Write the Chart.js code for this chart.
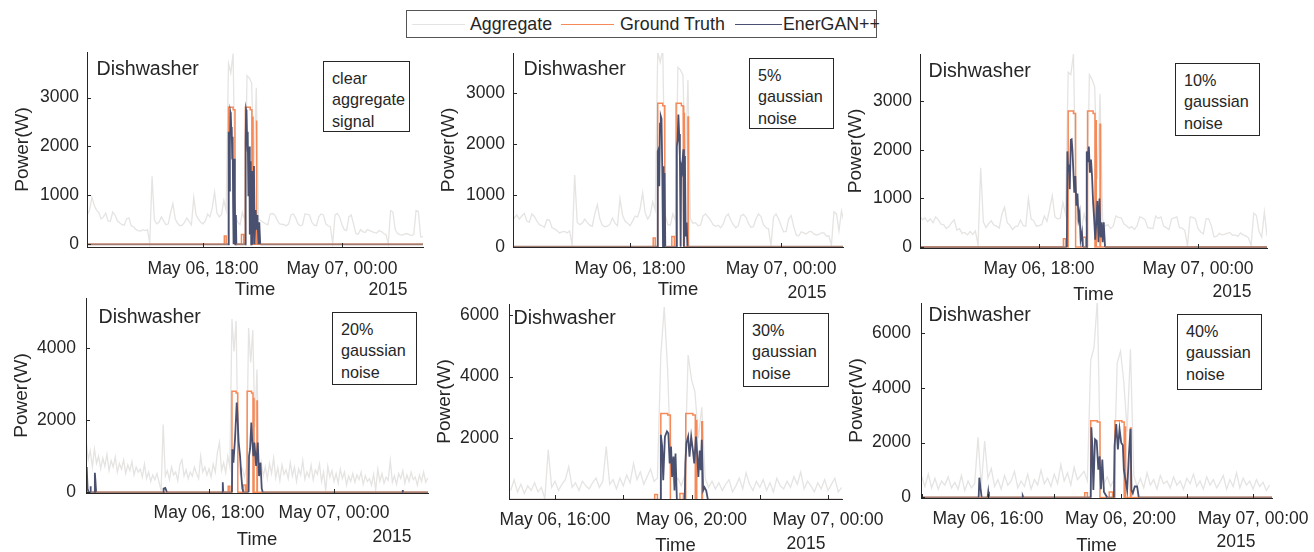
<!DOCTYPE html>
<html><head><meta charset="utf-8">
<script src="https://cdn.jsdelivr.net/npm/chart.js@4.4.1/dist/chart.umd.min.js"></script>
<style>
html,body{margin:0;padding:0;background:#fff}
body{width:1314px;height:552px;position:relative;overflow:hidden;font-family:"Liberation Sans",Arial,Helvetica,sans-serif;color:#262626}
canvas{position:absolute}
.t{position:absolute;white-space:nowrap;line-height:1}
.box{position:absolute;border:1px solid #262626;background:#fff;box-sizing:border-box}
.bt{position:absolute;white-space:nowrap;font-size:16.2px;line-height:21.3px}
.ln{position:absolute;height:0}
</style></head><body>
<script>
// ---------------- DATA ----------------
const aggStep = 0.1; // hours between aggregate samples (time axis = hours since May 06 00:00)

// Panel 1: clear aggregate signal
const agg1Start = 13.0;
const agg1 = [600,700,960,800,700,650,520,560,640,480,
470,660,600,480,440,400,390,520,540,380,
360,300,280,270,300,280,300,20,1390,500,
420,450,560,480,400,420,650,830,520,430,
380,390,450,540,470,400,960,600,520,450,
420,480,620,560,750,1070,640,560,610,900,
700,3700,3500,3900,600,450,400,650,500,3450,
3400,3300,1500,3200,520,480,450,420,400,620,
630,600,500,420,410,400,380,420,600,620,
540,420,380,400,620,610,600,450,390,380,
560,620,600,420,380,360,10,600,630,560,
400,300,280,560,600,420,220,200,300,260,
240,300,280,260,240,230,280,260,220,200,
10,690,660,300,220,200,190,210,220,200,
180,200,690,670,150,150];

// Panel 2: 5% gaussian noise
const agg2Start = 13.3;
const agg2 = [650,560,620,540,600,650,500,
480,640,590,500,430,410,380,530,520,370,
350,310,270,290,300,270,310,30,1400,480,
430,460,540,470,420,400,640,820,540,420,
390,400,440,560,460,410,940,620,500,460,
410,500,600,580,740,1050,660,540,620,880,
720,3800,3600,3850,620,430,420,640,520,3500,
3450,3350,1600,3250,540,460,470,410,420,600,
640,580,520,430,400,420,370,440,590,640,
520,430,370,410,600,630,580,460,380,390,
540,640,590,430,370,350,20,580,640,540,
410,290,300,540,610,400,230,210,290,270,
250,290,300,250,230,240,270,270,210,210,
30,680,640,310,700,480];

// Panel 3: 10% gaussian noise
const agg3Start = 13.5;
const agg3 = [640,560,600,520,580,
500,620,560,470,460,380,420,500,560,350,
380,280,300,250,320,260,330,40,1630,520,
400,480,540,450,430,390,680,820,500,450,
360,420,430,560,440,430,1000,580,540,430,
440,460,640,530,780,1060,620,580,590,920,
680,3600,3550,3980,640,470,380,680,480,3550,
3450,3300,1400,3150,560,430,460,380,430,640,
610,600,480,440,390,420,360,440,620,600,
560,400,390,380,640,590,620,430,400,360,
580,600,620,400,390,340,30,620,610,580,
380,310,270,580,580,440,210,220,280,250,
260,280,300,240,250,220,290,250,230,190,
30,700,650,320,200,720,230];

// Panel 4: 20% gaussian noise
const agg4Start = 12.1;
const agg4 = [1450,900,1150,700,1200,800,1000,650,950,
720,1050,600,880,700,980,560,800,640,900,
520,760,600,850,480,700,560,640,420,780,
380,560,300,480,350,520,280,50,1880,450,
600,350,700,480,560,320,760,900,450,620,
380,560,450,700,520,380,1000,560,700,480,
650,420,780,560,1100,1380,600,820,540,1000,
700,4800,3900,4750,800,500,650,420,700,4550,
3600,4500,1800,3400,600,850,450,700,380,800,
520,950,400,680,320,760,500,620,380,820,
450,700,300,650,480,880,360,560,420,750,
340,620,500,780,300,560,40,720,420,600,
300,520,250,640,380,560,200,450,300,520,
280,480,350,560,220,460,300,380,200,500,
60,640,300,520,250,420,330,880,280,460,
220,520,380,600,250,480,300,560,350,420,
200,480,300,560,280,400];

// Panel 5: 30% gaussian noise
const agg5Start = 14.7;
const agg5 = [300,650,250,
500,200,450,300,550,250,400,30,1620,400,
600,300,500,650,1070,400,550,300,600,450,
350,550,700,400,600,1730,500,650,350,700,
450,800,550,1180,650,900,500,750,1000,600,
700,4700,6260,4200,900,500,700,450,800,4700,
3900,3500,2000,3000,700,400,600,350,550,300,
500,650,250,450,700,350,870,500,300,600,
400,650,300,550,250,700,450,350,600,400,
750,500,900,350,600,450,250,550,350,650,
300,500,700,250,400];

// Panel 6: 40% gaussian noise
const agg6Start = 14.0;
const agg6 = [770,400,850,350,700,300,600,450,750,350,
550,300,800,250,600,350,500,2190,400,2060,
700,1050,400,650,300,800,450,600,950,350,
600,400,850,300,650,450,1000,500,700,400,
850,500,1200,600,900,450,1100,650,800,950,
600,5000,5460,7190,900,500,750,400,650,4900,
5335,4200,2400,5400,800,400,700,350,900,450,
650,300,800,500,600,350,750,450,600,300,
700,500,850,400,600,300,750,450,650,350,
550,800,300,650,400,900,350,700,450,600,
300,650,400,550,250,450];

// Ground truth (same dishwasher activation in every panel): [hour, W]
const truth = [[11,0],[18.92,0],[18.92,170],[19.0,170],[19.0,0],[19.1,0],[19.1,2800],[19.3,2800],[19.3,2750],[19.38,2750],[19.38,0],
[19.66,0],[19.66,200],[19.76,200],[19.76,0],[19.83,0],[19.83,2800],[20.04,2800],[20.04,2750],[20.11,2750],[20.11,0],
[20.14,0],[20.14,2600],[20.16,2600],[20.16,0],[20.30,0],[20.30,2530],[20.32,2530],[20.32,0],[29,0]];

// EnerGAN++ predictions: [hour, W]
const pred1 = [[11,0],[19.08,0],[19.10,2250],[19.12,2300],[19.14,1100],[19.16,2000],[19.18,2700],[19.20,2650],[19.22,2350],[19.24,2400],[19.26,1750],[19.28,2200],[19.30,800],[19.32,0],[19.34,1750],[19.36,300],[19.38,1000],[19.40,0],[19.42,600],[19.44,0],
[19.82,0],[19.84,2100],[19.86,2750],[19.88,2700],[19.90,2250],[19.92,1900],[19.94,2300],[19.96,1000],[19.98,1700],[20.00,2000],[20.02,200],[20.04,1230],[20.06,1700],[20.08,0],[20.10,1000],[20.12,1500],[20.14,0],[20.17,900],[20.20,1600],[20.23,0],[20.27,700],[20.31,300],[20.35,600],[20.39,0],[20.43,450],[20.47,0],[29,0]];
const pred2 = [[11,0],[19.08,0],[19.10,1860],[19.13,1900],[19.16,1180],[19.19,2400],[19.22,2550],[19.25,2500],[19.28,1500],[19.31,0],[19.33,1570],[19.35,0],[19.37,1440],[19.40,0],
[19.84,0],[19.86,1960],[19.89,2090],[19.92,2580],[19.95,2200],[19.98,1770],[20.01,0],[20.03,1570],[20.06,1500],[20.09,1700],[20.12,1900],[20.14,0],[20.18,1770],[20.21,200],[20.25,470],[20.28,0],[29,0]];
const pred3 = [[11,0],[19.05,0],[19.07,1970],[19.10,1560],[19.13,1700],[19.16,1190],[19.20,2210],[19.23,2220],[19.26,2000],[19.30,1500],[19.33,1120],[19.37,1460],[19.41,850],[19.45,1100],[19.49,580],[19.53,700],[19.57,150],[19.62,300],[19.65,0],
[19.79,0],[19.80,1970],[19.84,1750],[19.88,2070],[19.92,1530],[19.96,1800],[20.00,1460],[20.04,920],[20.08,580],[20.12,150],[20.16,510],[20.20,950],[20.24,100],[20.28,1000],[20.32,200],[20.36,510],[20.40,100],[20.44,510],[20.49,0],[29,0]];
const pred4 = [[11,0],[12.05,0],[12.07,960],[12.10,500],[12.13,700],[12.17,100],[12.22,0],[12.29,0],[12.31,170],[12.33,0],[12.50,0],[12.52,540],[12.55,300],[12.58,0],
[15.80,0],[15.82,100],[15.90,120],[15.98,0],[18.64,0],[18.66,280],[18.68,0],
[19.10,0],[19.12,1190],[19.17,820],[19.25,1500],[19.33,2490],[19.36,2210],[19.42,1400],[19.49,1000],[19.55,450],[19.60,100],[19.65,0],
[19.90,0],[19.92,1000],[19.97,1200],[20.03,1930],[20.07,1470],[20.13,1000],[20.18,1380],[20.26,730],[20.34,1380],[20.40,450],[20.47,820],[20.53,100],[20.58,0],
[27.28,0],[27.30,60],[27.32,0],[29,0]];
const pred5 = [[11,0],[19.08,0],[19.10,2110],[19.14,1730],[19.17,630],[19.22,2050],[19.28,2220],[19.32,2160],[19.36,1180],[19.40,1730],[19.43,740],[19.47,1400],[19.50,300],[19.53,1500],[19.57,0],
[19.80,0],[19.82,1180],[19.85,1840],[19.90,2050],[19.94,1400],[19.99,2050],[20.04,1600],[20.08,1180],[20.13,2050],[20.17,1400],[20.20,740],[20.24,1600],[20.27,960],[20.30,1950],[20.34,300],[20.38,400],[20.43,300],[20.48,0],[29,0]];
const pred6 = [[11,0],[15.72,0],[15.74,720],[15.78,300],[15.81,0],[15.99,0],[16.01,210],[16.03,0],[17.04,0],[17.05,60],[17.07,0],
[19.10,0],[19.12,2560],[19.15,1880],[19.18,270],[19.23,2120],[19.28,2060],[19.33,1010],[19.37,1500],[19.41,300],[19.45,1380],[19.50,200],[19.55,100],[19.60,0],
[19.80,0],[19.82,1880],[19.87,2680],[19.92,1750],[19.97,2500],[20.02,2000],[20.07,1900],[20.10,1010],[20.15,640],[20.20,270],[20.25,1500],[20.30,2500],[20.33,270],[20.37,150],[20.43,400],[20.50,400],[20.55,0],[29,0]];

// Tick values / labels
const yTicks3k = [0,1000,2000,3000];
const yTicks4k = [0,2000,4000];
const yTicks6kNoZero = [2000,4000,6000];
const yTicks6k = [0,2000,4000,6000];
const xTicksTop = [18,24];
const xLabelsTop = ['May 06, 18:00','May 07, 00:00'];
const xTicksP5 = [16,18,20,22,24];
const xLabelsP5 = ['May 06, 16:00','','May 06, 20:00','','May 07, 00:00'];
const xTicksP6 = [14,16,18,20,22,24];
const xLabelsP6 = ['','May 06, 16:00','','May 06, 20:00','','May 07, 00:00'];
const noiseLabels = [['clear','aggregate','signal'],['5%','gaussian','noise'],['10%','gaussian','noise'],['20%','gaussian','noise'],['30%','gaussian','noise'],['40%','gaussian','noise']];
const seriesNames = ['Aggregate','Ground Truth','EnerGAN++'];

// ---------------- STYLE / LAYOUT ----------------
const C_AGG = '#e6e4e2', C_TRUTH = '#f58a58', C_PRED = '#4a5170', C_BASE = '#a07c72', AX = '#262626';
const FONT = '"Liberation Sans", Arial, Helvetica, sans-serif';
const AX_W = 80, TOP_PAD = 10, PAD_R = 62, TICK_LEN = 4;

const panels = [
 {L:87, T:52, R:423, B:247, xMin:12.99, xMax:27.5, yMin:-55, yMax:3932, yTicks:yTicks3k, xTicks:xTicksTop, xLabels:xLabelsTop, agg:agg1, aggStart:agg1Start, pred:pred1, xPad:12, xH:53.6, yPad:8,
  dw:[96.5,75.7], box:[323,61,410,132], y2015:[388,295.7]},
 {L:513, T:53, R:843, B:247, xMin:13.35, xMax:26.46, yMin:-5, yMax:3779, yTicks:yTicks3k, xTicks:xTicksTop, xLabels:xLabelsTop, agg:agg2, aggStart:agg2Start, pred:pred2, xPad:12, xH:54.1, yPad:8,
  dw:[523.5,76], box:[749,58,834,129], y2015:[807,299]},
 {L:920, T:54, R:1267, B:248, xMin:13.51, xMax:26.6, yMin:-20, yMax:3976, yTicks:yTicks3k, xTicks:xTicksTop, xLabels:xLabelsTop, agg:agg3, aggStart:agg3Start, pred:pred3, xPad:11, xH:57.6, yPad:8,
  dw:[928.5,77.3], box:[1175,63,1260,136], y2015:[1232,298.3]},
 {L:86, T:298, R:428, B:493, xMin:12.095, xMax:28.51, yMin:-20, yMax:5385, yTicks:yTicks4k, xTicks:xTicksTop, xLabels:xLabelsTop, agg:agg4, aggStart:agg4Start, pred:pred4, xPad:10, xH:57.6, yPad:10,
  dw:[98.5,323.3], box:[332,312,417,385], y2015:[392,543.3]},
 {L:509, T:304, R:842, B:499, xMin:14.65, xMax:24.41, yMin:23, yMax:6357, yTicks:yTicks6kNoZero, xTicks:xTicksP5, xLabels:xLabelsP5, agg:agg5, aggStart:agg5Start, pred:pred5, xPad:11, xH:58.1, yPad:10,
  dw:[513.5,324.3], box:[743,313,829,387], y2015:[806,550]},
 {L:921, T:303, R:1272, B:498, xMin:13.98, xMax:24.57, yMin:-20, yMax:7091, yTicks:yTicks6k, xTicks:xTicksP6, xLabels:xLabelsP6, agg:agg6, aggStart:agg6Start, pred:pred6, xPad:11, xH:59.1, yPad:10,
  dw:[928.5,321.7], box:[1177,314,1262,390], y2015:[1236,548.3]}
];

Chart.defaults.font.family = FONT;
Chart.defaults.color = AX;

const inwardTicks = {
  id: 'inwardTicks',
  afterDraw(chart) {
    const {ctx, chartArea: a, scales: {x, y}} = chart;
    ctx.save();
    ctx.strokeStyle = AX; ctx.lineWidth = 1;
    ctx.beginPath();
    x.ticks.forEach(t => { const px = Math.round(x.getPixelForValue(t.value)) + 0.5; ctx.moveTo(px, a.bottom); ctx.lineTo(px, a.bottom - TICK_LEN); });
    y.ticks.forEach(t => { const py = Math.round(y.getPixelForValue(t.value)) + 0.5; ctx.moveTo(a.left, py); ctx.lineTo(a.left + TICK_LEN, py); });
    ctx.stroke();
    ctx.restore();
  }
};

const toXY = arr => arr.map(p => ({x: p[0], y: p[1]}));

function addText(txt, left, baseline, size, extra) {
  const d = document.createElement('div');
  d.className = 't';
  d.textContent = txt;
  d.style.fontSize = size + 'px';
  d.style.left = left + 'px';
  d.style.top = (baseline - 0.8465 * size) + 'px';
  if (extra) Object.assign(d.style, extra);
  document.body.appendChild(d);
  return d;
}

panels.forEach((p, idx) => {
  const W = p.R - p.L + AX_W + PAD_R;
  const H = p.B - p.T + TOP_PAD + p.xH;
  const cv = document.createElement('canvas');
  cv.width = Math.round(W); cv.height = Math.round(H);
  cv.style.left = (p.L - AX_W) + 'px';
  cv.style.top = (p.T - TOP_PAD) + 'px';
  cv.style.width = Math.round(W) + 'px';
  cv.style.height = Math.round(H) + 'px';
  document.body.appendChild(cv);
  const xH = Math.round(H) - (p.B - p.T + TOP_PAD);

  new Chart(cv, {
    type: 'line',
    data: {
      datasets: [
        {label: seriesNames[2], data: toXY(p.pred), borderColor: C_PRED, borderWidth: 1.8, order: 0,
         segment: {borderColor: c => (c.p0.parsed.y === 0 && c.p1.parsed.y === 0) ? C_BASE : undefined}},
        {label: seriesNames[1], data: toXY(truth), borderColor: C_TRUTH, borderWidth: 1.5, order: 1},
        {label: seriesNames[0], data: p.agg.map((v, i) => ({x: p.aggStart + i * aggStep, y: v})), borderColor: C_AGG, borderWidth: 1.3, order: 2}
      ]
    },
    options: {
      responsive: false, animation: false, devicePixelRatio: 1, events: [],
      layout: {padding: {left: 0, top: TOP_PAD, right: PAD_R, bottom: 0}},
      elements: {point: {radius: 0}, line: {tension: 0}},
      plugins: {legend: {display: false}, tooltip: {enabled: false}},
      scales: {
        x: {
          type: 'linear', bounds: 'data', min: p.xMin, max: p.xMax,
          grid: {display: false, drawTicks: false},
          border: {display: true, color: AX, width: 1, z: 1},
          ticks: {color: AX, font: {size: 17.5}, padding: p.xPad, maxRotation: 0, minRotation: 0, autoSkip: false,
                  callback: v => { const k = p.xTicks.indexOf(v); return k >= 0 ? p.xLabels[k] : ''; }},
          afterBuildTicks: s => { s.ticks = p.xTicks.map(v => ({value: v})); },
          afterFit: s => { s.height = xH; s.paddingLeft = 0; s.paddingRight = 0; },
          title: {display: true, text: 'Time', color: AX, font: {size: 18.5}, padding: {top: 0, bottom: 0}}
        },
        y: {
          type: 'linear', bounds: 'data', min: p.yMin, max: p.yMax,
          grid: {display: false, drawTicks: false},
          border: {display: true, color: AX, width: 1, z: 1},
          ticks: {color: AX, font: {size: 17.5}, padding: p.yPad, callback: v => String(v)},
          afterBuildTicks: s => { s.ticks = p.yTicks.map(v => ({value: v})); },
          afterFit: s => { s.width = AX_W; s.paddingTop = 0; s.paddingBottom = 0; },
          title: {display: true, text: 'Power(W)', color: AX, font: {size: 19}, padding: {top: 4, bottom: 0}}
        }
      }
    },
    plugins: [inwardTicks]
  });

  // annotations
  addText('Dishwasher', p.dw[0], p.dw[1], 19.6);
  const b = document.createElement('div');
  b.className = 'box';
  b.style.left = p.box[0] + 'px'; b.style.top = p.box[1] + 'px';
  b.style.width = (p.box[2] - p.box[0]) + 'px'; b.style.height = (p.box[3] - p.box[1]) + 'px';
  document.body.appendChild(b);
  const bt = document.createElement('div');
  bt.className = 'bt';
  bt.style.left = (p.box[0] + 9) + 'px'; bt.style.top = (p.box[1] + 7.2) + 'px';
  bt.innerHTML = noiseLabels[idx].join('<br>');
  document.body.appendChild(bt);
  addText('2015', p.y2015[0] - 19.5, p.y2015[1], 17.5);
});

// shared legend
const lg = document.createElement('div');
lg.className = 'box';
Object.assign(lg.style, {left: '406px', top: '10px', width: '471px', height: '28px', borderColor: '#555'});
document.body.appendChild(lg);
const legendPos = [{x1: 412, x2: 465, tx: 470}, {x1: 561, x2: 614, tx: 620}, {x1: 735, x2: 782, tx: 783}];
const legendColors = [C_AGG, C_TRUTH, C_PRED];
legendPos.forEach((lp, i) => {
  const l = document.createElement('div');
  l.className = 'ln';
  Object.assign(l.style, {left: lp.x1 + 'px', top: '23.5px', width: (lp.x2 - lp.x1) + 'px', borderTop: '1.5px solid ' + legendColors[i]});
  document.body.appendChild(l);
  addText(seriesNames[i], lp.tx, 30.7, 17.8);
});
</script>
</body></html>
